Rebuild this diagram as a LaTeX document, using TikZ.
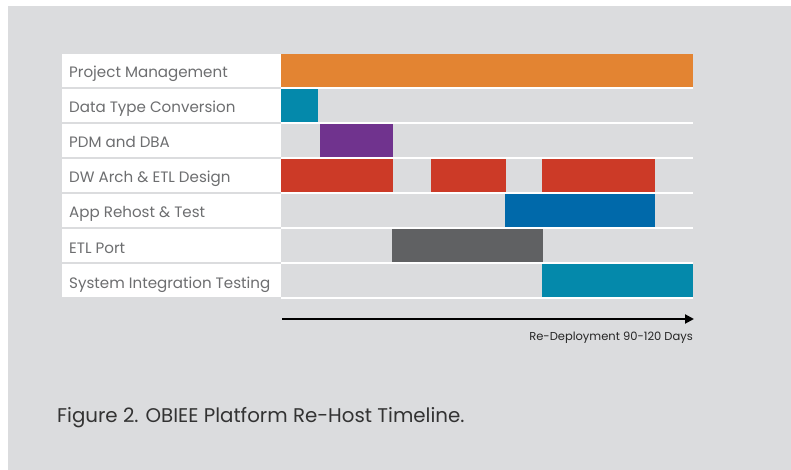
\documentclass[tikz,border=0pt]{standalone}
\usepackage{fontspec}
\setmainfont{Poppins}
\usetikzlibrary{arrows.meta}
\definecolor{bg}{HTML}{DBDCDE}
\definecolor{lbl}{HTML}{6D6E70}
\definecolor{cOrange}{HTML}{E38432}
\definecolor{cTeal}{HTML}{0489AB}
\definecolor{cPurple}{HTML}{70338E}
\definecolor{cRed}{HTML}{CC3A27}
\definecolor{cBlue}{HTML}{0069AA}
\definecolor{cGray}{HTML}{606163}
\tikzset{
  rowlabel/.style={anchor=base west, inner sep=0pt, text=lbl, font=\fontsize{15.1}{15}\selectfont},
  sepline/.style={draw=white, line width=1.5pt},
  labelbox/.style={fill=white},
}
\begin{document}
\begin{tikzpicture}[x=1pt,y=-1pt]
\useasboundingbox (0,0) rectangle (791,470);
\fill[white] (0,0) rectangle (791,470);
\fill[bg] (8,6) rectangle (791,470);
% rows
\foreach \i/\t in {0/Project Management,1/Data Type Conversion,2/PDM and DBA,3/DW Arch \& ETL Design,4/App Rehost \& Test,5/ETL Port,6/System Integration Testing}{
  \pgfmathsetmacro{\top}{54+35*\i}
  \fill[labelbox] (62,\top) rectangle (281,\top+33);
  \draw[sepline] (281,\top+34) -- (693,\top+34);
  \node[rowlabel] (lab\i) at (69,\top+24) {\t};
}
% bars
\fill[cOrange] (281,54) rectangle (693,87);
\fill[cTeal] (281,89) rectangle (318,122);
\fill[cPurple] (320,124) rectangle (393,157);
\fill[cRed] (281,159) rectangle (393,192);
\fill[cRed] (431,159) rectangle (506,192);
\fill[cRed] (542,159) rectangle (655,192);
\fill[cBlue] (505,194) rectangle (655,227);
\fill[cGray] (392,229) rectangle (543,262);
\fill[cTeal] (542,264) rectangle (693,297);
% axis
\coordinate (axs) at (282,319);
\coordinate (axe) at (694,319);
\draw[line width=2pt, -{Triangle[length=9pt,width=9pt]}] (axs) -- (axe);
\node[anchor=base east, inner sep=0pt, text=black!85, font=\fontsize{11.5}{11.5}\selectfont] (axlab) at (693,340) {Re-Deployment 90-120 Days};
\node[anchor=base west, inner sep=0pt, text=black!80, font=\fontsize{19.8}{20}\selectfont] (cap) at (57,422) {Figure 2. OBIEE Platform Re-Host Timeline.};
\end{tikzpicture}
\end{document}
